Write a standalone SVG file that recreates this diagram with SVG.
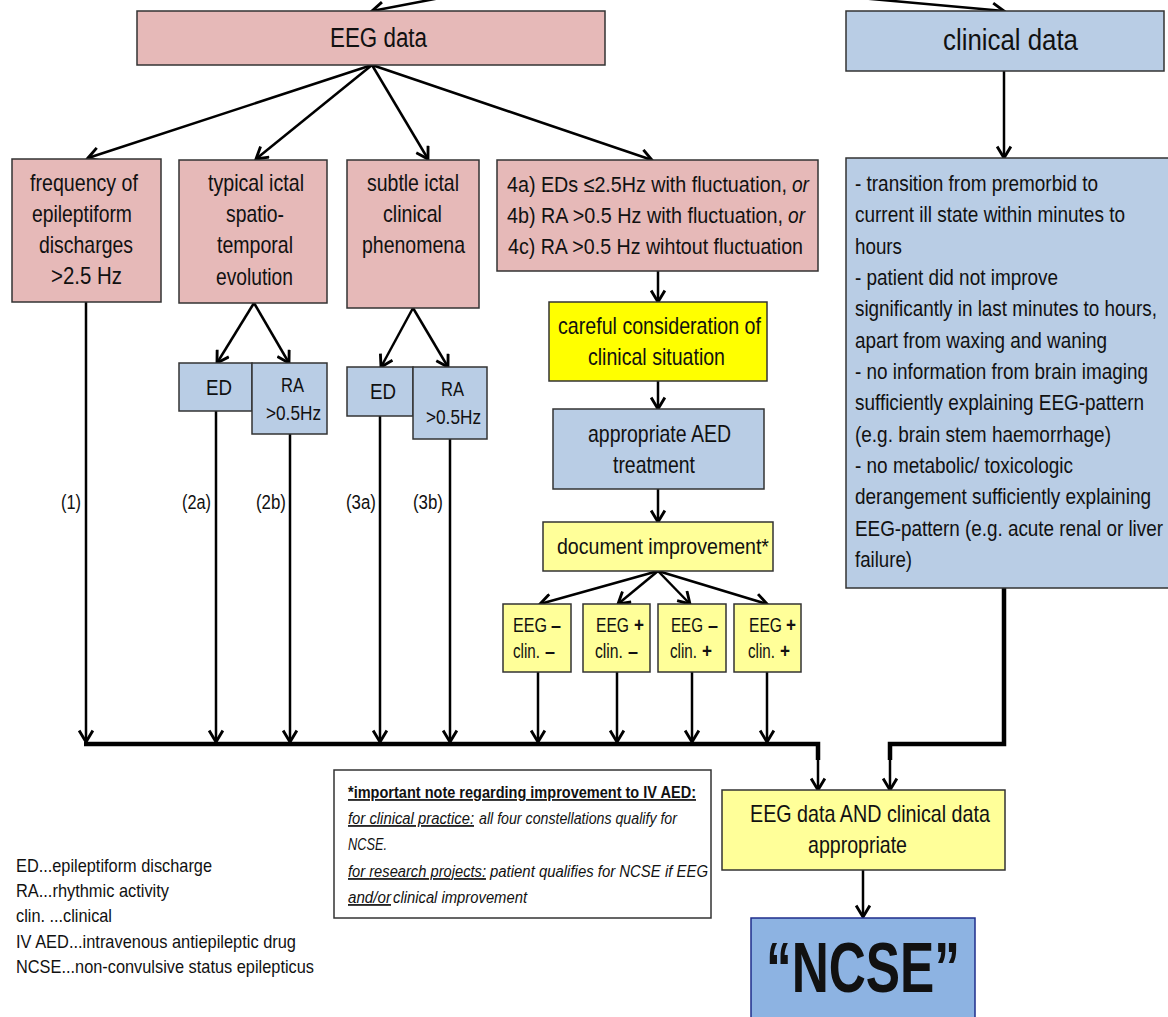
<svg xmlns="http://www.w3.org/2000/svg" width="1168" height="1017" viewBox="0 0 1168 1017">
<defs>
<marker id="ah" markerUnits="userSpaceOnUse" markerWidth="16" markerHeight="16" refX="11" refY="7" orient="auto" viewBox="0 0 14 14">
<path d="M1,1 L11,7 L1,13" fill="none" stroke="#000" stroke-width="2.5" stroke-linejoin="miter"/>
</marker>
</defs>
<style>
text{font-family:"Liberation Sans",Arial,sans-serif;fill:#111}
.pink{fill:#E6B9B8;stroke:#333;stroke-width:1.5}
.blue{fill:#B9CDE5;stroke:#333;stroke-width:1.5}
.yel{fill:#FFFF00;stroke:#333;stroke-width:1.5}
.ly{fill:#FFFF99;stroke:#333;stroke-width:1.5}
.ncse{fill:#8DB3E2;stroke:#1F2E8C;stroke-width:1.5}
.note{fill:#fff;stroke:#333;stroke-width:1.5}
.f23{font-size:23px}
.f22{font-size:22px}
.f20{font-size:20px}
.b{font-weight:bold}
.it{font-style:italic}
.u{text-decoration:underline}
.ln{fill:none;stroke:#000;stroke-width:2.5}
.bus{fill:none;stroke:#000;stroke-width:4.5}
.nt{font-size:17px;font-style:italic}
.lg{font-size:17.5px}
</style>

<g id="connectors">
<line class="ln" x1="440" y1="-2" x2="372" y2="11" marker-end="url(#ah)"/>
<line class="ln" x1="860" y1="-2" x2="1004" y2="11" marker-end="url(#ah)"/>
<line class="ln" x1="372" y1="65" x2="88" y2="158" marker-end="url(#ah)"/>
<line class="ln" x1="372" y1="65" x2="256" y2="159" marker-end="url(#ah)"/>
<line class="ln" x1="372" y1="65" x2="428" y2="159" marker-end="url(#ah)"/>
<line class="ln" x1="372" y1="65" x2="652" y2="160" marker-end="url(#ah)"/>
<line class="ln" x1="1004" y1="71" x2="1004" y2="158" marker-end="url(#ah)"/>
<line class="ln" x1="254" y1="303" x2="217" y2="363" marker-end="url(#ah)"/>
<line class="ln" x1="254" y1="303" x2="289" y2="363" marker-end="url(#ah)"/>
<line class="ln" x1="413" y1="308" x2="381" y2="367" marker-end="url(#ah)"/>
<line class="ln" x1="413" y1="308" x2="448" y2="367" marker-end="url(#ah)"/>
<line class="ln" x1="658" y1="271" x2="658" y2="302" marker-end="url(#ah)"/>
<line class="ln" x1="658" y1="381" x2="658" y2="409" marker-end="url(#ah)"/>
<line class="ln" x1="658" y1="489" x2="658" y2="522" marker-end="url(#ah)"/>
<line class="ln" x1="658" y1="571" x2="540" y2="604" marker-end="url(#ah)"/>
<line class="ln" x1="658" y1="571" x2="618" y2="604" marker-end="url(#ah)"/>
<line class="ln" x1="658" y1="571" x2="690" y2="604" marker-end="url(#ah)"/>
<line class="ln" x1="658" y1="571" x2="767" y2="604" marker-end="url(#ah)"/>
<line class="ln" x1="86" y1="302" x2="86" y2="742" marker-end="url(#ah)"/>
<line class="ln" x1="216" y1="411" x2="216" y2="742" marker-end="url(#ah)"/>
<line class="ln" x1="290" y1="434" x2="290" y2="742" marker-end="url(#ah)"/>
<line class="ln" x1="380" y1="416" x2="380" y2="742" marker-end="url(#ah)"/>
<line class="ln" x1="450" y1="439" x2="450" y2="742" marker-end="url(#ah)"/>
<line class="ln" x1="538" y1="672" x2="538" y2="742" marker-end="url(#ah)"/>
<line class="ln" x1="617" y1="672" x2="617" y2="742" marker-end="url(#ah)"/>
<line class="ln" x1="692" y1="672" x2="692" y2="742" marker-end="url(#ah)"/>
<line class="ln" x1="767" y1="672" x2="767" y2="742" marker-end="url(#ah)"/>
<path class="bus" d="M84,744 H818 V760"/>
<line class="ln" x1="818" y1="758" x2="818" y2="790" marker-end="url(#ah)"/>
<path class="bus" d="M1004,588 V744 H890 V760"/>
<line class="ln" x1="890" y1="758" x2="890" y2="790" marker-end="url(#ah)"/>
<line class="ln" x1="863" y1="870" x2="863" y2="917" marker-end="url(#ah)"/>
</g>

<g id="n-eeg">
<rect class="pink" x="137" y="11" width="468" height="54"/>
<g transform="scale(0.8 1)"><text x="412.5" y="47" font-size="28" textLength="121.25" lengthAdjust="spacingAndGlyphs">EEG data</text></g>
</g>
<g id="n-clin">
<rect class="blue" x="846" y="11" width="318" height="60"/>
<g transform="scale(0.8 1)"><text x="1178.75" y="50" font-size="29" textLength="168.75" lengthAdjust="spacingAndGlyphs">clinical data</text></g>
</g>

<g id="n-freq">
<rect class="pink" x="12" y="159" width="149" height="143"/>
<g transform="scale(0.8 1)">
<text class="f23" x="37.5" y="191" textLength="135" lengthAdjust="spacingAndGlyphs">frequency of</text>
<text class="f23" x="40" y="222" textLength="125" lengthAdjust="spacingAndGlyphs">epileptiform</text>
<text class="f23" x="48.75" y="253" textLength="117.5" lengthAdjust="spacingAndGlyphs">discharges</text>
<text class="f23" x="63.75" y="284" textLength="88.75" lengthAdjust="spacingAndGlyphs">&gt;2.5 Hz</text>
</g>
</g>
<g id="n-typ">
<rect class="pink" x="179" y="160" width="148" height="143"/>
<g transform="scale(0.8 1)">
<text class="f23" x="260" y="191" textLength="120" lengthAdjust="spacingAndGlyphs">typical ictal</text>
<text class="f23" x="282.5" y="222" textLength="72.5" lengthAdjust="spacingAndGlyphs">spatio-</text>
<text class="f23" x="271.25" y="253" textLength="95" lengthAdjust="spacingAndGlyphs">temporal</text>
<text class="f23" x="270" y="285" textLength="96.25" lengthAdjust="spacingAndGlyphs">evolution</text>
</g>
</g>
<g id="n-subtle">
<rect class="pink" x="347" y="160" width="132" height="148"/>
<g transform="scale(0.8 1)">
<text class="f23" x="458.75" y="191" textLength="115" lengthAdjust="spacingAndGlyphs">subtle ictal</text>
<text class="f23" x="478.75" y="222" textLength="73.75" lengthAdjust="spacingAndGlyphs">clinical</text>
<text class="f23" x="452.5" y="253" textLength="128.75" lengthAdjust="spacingAndGlyphs">phenomena</text>
</g>
</g>
<g id="n-4">
<rect class="pink" x="497" y="160" width="321" height="111"/>
<g transform="scale(0.8 1)">
<text class="f22" x="633.75" y="192" textLength="350" lengthAdjust="spacingAndGlyphs">4a) EDs ≤2.5Hz with fluctuation,</text>
<text class="f22 it" x="990" y="192" textLength="21.25" lengthAdjust="spacingAndGlyphs">or</text>
<text class="f22" x="633.75" y="223" textLength="345" lengthAdjust="spacingAndGlyphs">4b) RA &gt;0.5 Hz with fluctuation,</text>
<text class="f22 it" x="985" y="223" textLength="21.25" lengthAdjust="spacingAndGlyphs">or</text>
<text class="f22" x="635" y="254" textLength="368.75" lengthAdjust="spacingAndGlyphs">4c) RA &gt;0.5 Hz wihtout fluctuation</text>
</g>
</g>

<g id="n-ed1">
<rect class="blue" x="179" y="363" width="73" height="48"/>
<g transform="scale(0.8 1)"><text class="f22" x="257.5" y="395" textLength="32.5" lengthAdjust="spacingAndGlyphs">ED</text></g>
</g>
<g id="n-ra1">
<rect class="blue" x="252" y="363" width="75" height="71"/>
<g transform="scale(0.8 1)">
<text class="f20" x="351.25" y="392" textLength="28.75" lengthAdjust="spacingAndGlyphs">RA</text>
<text class="f20" x="332.5" y="420" textLength="68.75" lengthAdjust="spacingAndGlyphs">&gt;0.5Hz</text>
</g>
</g>
<g id="n-ed2">
<rect class="blue" x="347" y="367" width="66" height="49"/>
<g transform="scale(0.8 1)"><text class="f22" x="462.5" y="399" textLength="32.5" lengthAdjust="spacingAndGlyphs">ED</text></g>
</g>
<g id="n-ra2">
<rect class="blue" x="413" y="367" width="74" height="72"/>
<g transform="scale(0.8 1)">
<text class="f20" x="551.25" y="396" textLength="28.75" lengthAdjust="spacingAndGlyphs">RA</text>
<text class="f20" x="532.5" y="424" textLength="68.75" lengthAdjust="spacingAndGlyphs">&gt;0.5Hz</text>
</g>
</g>

<g id="n-careful">
<rect class="yel" x="549" y="302" width="218" height="79"/>
<g transform="scale(0.8 1)">
<text class="f23" x="697.5" y="334" textLength="253.75" lengthAdjust="spacingAndGlyphs">careful consideration of</text>
<text class="f23" x="735" y="365" textLength="171.25" lengthAdjust="spacingAndGlyphs">clinical situation</text>
</g>
</g>
<g id="n-aed">
<rect class="blue" x="553" y="409" width="211" height="80"/>
<g transform="scale(0.8 1)">
<text class="f23" x="735" y="442" textLength="178.75" lengthAdjust="spacingAndGlyphs">appropriate AED</text>
<text class="f23" x="766.25" y="473" textLength="102.5" lengthAdjust="spacingAndGlyphs">treatment</text>
</g>
</g>
<g id="n-doc">
<rect class="ly" x="543" y="522" width="230" height="49"/>
<g transform="scale(0.8 1)"><text class="f22" x="696.25" y="554" textLength="265" lengthAdjust="spacingAndGlyphs">document improvement*</text></g>
</g>

<g id="n-e1">
<rect class="ly" x="503" y="604" width="68" height="68"/>
<g transform="scale(0.8 1)">
<text class="f20" x="641.25" y="632" textLength="42.5" lengthAdjust="spacingAndGlyphs">EEG</text>
<text class="f20 b" x="688.75" y="632" textLength="12.5" lengthAdjust="spacingAndGlyphs">–</text>
<text class="f20" x="641.25" y="658" textLength="33.75" lengthAdjust="spacingAndGlyphs">clin.</text>
<text class="f20 b" x="681.25" y="658" textLength="12.5" lengthAdjust="spacingAndGlyphs">–</text>
</g>
</g>
<g id="n-e2">
<rect class="ly" x="583" y="604" width="67" height="68"/>
<g transform="scale(0.8 1)">
<text class="f20" x="745" y="632" textLength="41.25" lengthAdjust="spacingAndGlyphs">EEG</text>
<text class="f20 b" x="792.5" y="632" textLength="12.5" lengthAdjust="spacingAndGlyphs">+</text>
<text class="f20" x="743.75" y="658" textLength="35" lengthAdjust="spacingAndGlyphs">clin.</text>
<text class="f20 b" x="785" y="658" textLength="12.5" lengthAdjust="spacingAndGlyphs">–</text>
</g>
</g>
<g id="n-e3">
<rect class="ly" x="658" y="604" width="68" height="68"/>
<g transform="scale(0.8 1)">
<text class="f20" x="838.75" y="632" textLength="40" lengthAdjust="spacingAndGlyphs">EEG</text>
<text class="f20 b" x="885" y="632" textLength="12.5" lengthAdjust="spacingAndGlyphs">–</text>
<text class="f20" x="837.5" y="658" textLength="33.75" lengthAdjust="spacingAndGlyphs">clin.</text>
<text class="f20 b" x="877.5" y="658" textLength="12.5" lengthAdjust="spacingAndGlyphs">+</text>
</g>
</g>
<g id="n-e4">
<rect class="ly" x="734" y="604" width="67" height="68"/>
<g transform="scale(0.8 1)">
<text class="f20" x="936.25" y="632" textLength="41.25" lengthAdjust="spacingAndGlyphs">EEG</text>
<text class="f20 b" x="982.5" y="632" textLength="12.5" lengthAdjust="spacingAndGlyphs">+</text>
<text class="f20" x="935" y="658" textLength="33.75" lengthAdjust="spacingAndGlyphs">clin.</text>
<text class="f20 b" x="975" y="658" textLength="12.5" lengthAdjust="spacingAndGlyphs">+</text>
</g>
</g>

<g id="n-criteria">
<rect class="blue" x="846" y="158" width="330" height="430"/>
<g transform="scale(0.8 1)">
<text class="f22" x="1068.75" y="191" textLength="303.75" lengthAdjust="spacingAndGlyphs">- transition from premorbid to</text>
<text class="f22" x="1068.75" y="222" textLength="337.5" lengthAdjust="spacingAndGlyphs">current ill state within minutes to</text>
<text class="f22" x="1068.75" y="254" textLength="58.75" lengthAdjust="spacingAndGlyphs">hours</text>
<text class="f22" x="1068.75" y="285" textLength="253.75" lengthAdjust="spacingAndGlyphs">- patient did not improve</text>
<text class="f22" x="1068.75" y="316" textLength="377.5" lengthAdjust="spacingAndGlyphs">significantly in last minutes to hours,</text>
<text class="f22" x="1068.75" y="348" textLength="315" lengthAdjust="spacingAndGlyphs">apart from waxing and waning</text>
<text class="f22" x="1068.75" y="379" textLength="366.25" lengthAdjust="spacingAndGlyphs">- no information from brain imaging</text>
<text class="f22" x="1068.75" y="410" textLength="361.25" lengthAdjust="spacingAndGlyphs">sufficiently explaining EEG-pattern</text>
<text class="f22" x="1068.75" y="442" textLength="320" lengthAdjust="spacingAndGlyphs">(e.g. brain stem haemorrhage)</text>
<text class="f22" x="1068.75" y="473" textLength="272.5" lengthAdjust="spacingAndGlyphs">- no metabolic/ toxicologic</text>
<text class="f22" x="1068.75" y="504" textLength="370" lengthAdjust="spacingAndGlyphs">derangement sufficiently explaining</text>
<text class="f22" x="1068.75" y="536" textLength="385" lengthAdjust="spacingAndGlyphs">EEG-pattern (e.g. acute renal or liver</text>
<text class="f22" x="1068.75" y="567" textLength="71.25" lengthAdjust="spacingAndGlyphs">failure)</text>
</g>
</g>

<g id="labels">
<g transform="scale(0.8 1)">
<text class="f20" x="76.25" y="509" textLength="25" lengthAdjust="spacingAndGlyphs">(1)</text>
<text class="f20" x="227.5" y="509" textLength="36.25" lengthAdjust="spacingAndGlyphs">(2a)</text>
<text class="f20" x="320" y="509" textLength="37.5" lengthAdjust="spacingAndGlyphs">(2b)</text>
<text class="f20" x="432.5" y="509" textLength="37.5" lengthAdjust="spacingAndGlyphs">(3a)</text>
<text class="f20" x="516.25" y="509" textLength="37.5" lengthAdjust="spacingAndGlyphs">(3b)</text>
</g>
</g>

<g id="n-and">
<rect class="ly" x="722" y="790" width="283" height="80"/>
<g transform="scale(0.8 1)">
<text class="f23" x="937.5" y="822" textLength="300" lengthAdjust="spacingAndGlyphs">EEG data AND clinical data</text>
<text class="f23" x="1010" y="853" textLength="123.75" lengthAdjust="spacingAndGlyphs">appropriate</text>
</g>
</g>
<g id="n-ncse">
<rect class="ncse" x="751" y="918" width="224" height="104"/>
<g transform="scale(0.8 1)"><text x="957.5" y="992" font-size="70" font-weight="bold" textLength="242.5" lengthAdjust="spacingAndGlyphs">“NCSE”</text></g>
</g>

<g id="n-note">
<rect class="note" x="334" y="770" width="377" height="148"/>
<g transform="scale(0.8 1)">
<text class="b u" x="435" y="798" font-size="17" textLength="435" lengthAdjust="spacingAndGlyphs">*important note regarding improvement to IV AED:</text>
<text class="nt u" x="435" y="824" textLength="157.5" lengthAdjust="spacingAndGlyphs">for clinical practice:</text>
<text class="nt" x="598.75" y="824" textLength="247.5" lengthAdjust="spacingAndGlyphs">all four constellations qualify for</text>
<text class="nt" x="435" y="850" textLength="48.75" lengthAdjust="spacingAndGlyphs">NCSE.</text>
<text class="nt u" x="435" y="877" textLength="172.5" lengthAdjust="spacingAndGlyphs">for research projects:</text>
<text class="nt" x="612.5" y="877" textLength="272.5" lengthAdjust="spacingAndGlyphs">patient qualifies for NCSE if EEG</text>
<text class="nt u" x="435" y="903" textLength="53.75" lengthAdjust="spacingAndGlyphs">and/or</text>
<text class="nt" x="491.25" y="903" textLength="167.5" lengthAdjust="spacingAndGlyphs">clinical improvement</text>
</g>
</g>

<g id="legend">
<g transform="scale(0.8 1)">
<text class="lg" x="20" y="872" textLength="245" lengthAdjust="spacingAndGlyphs">ED...epileptiform discharge</text>
<text class="lg" x="20" y="897" textLength="191.25" lengthAdjust="spacingAndGlyphs">RA...rhythmic activity</text>
<text class="lg" x="20" y="922" textLength="120" lengthAdjust="spacingAndGlyphs">clin. ...clinical</text>
<text class="lg" x="20" y="948" textLength="350" lengthAdjust="spacingAndGlyphs">IV AED...intravenous antiepileptic drug</text>
<text class="lg" x="20" y="973" textLength="372.5" lengthAdjust="spacingAndGlyphs">NCSE...non-convulsive status epilepticus</text>
</g>
</g>
</svg>
